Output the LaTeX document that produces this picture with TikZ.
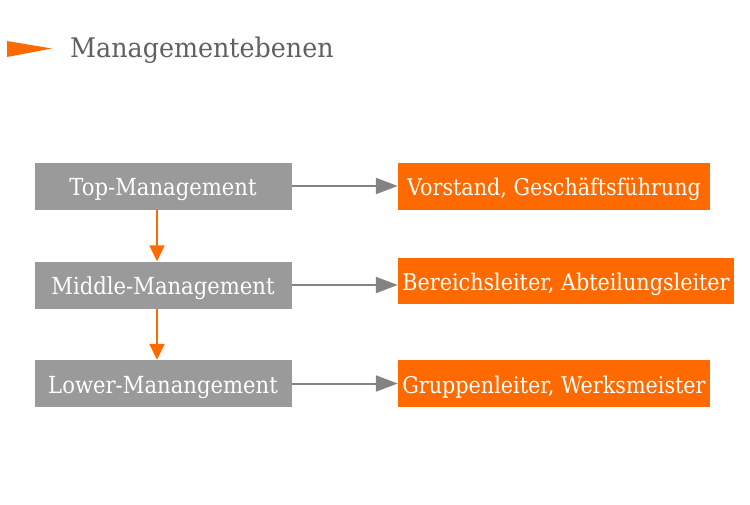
\documentclass[tikz,border=0pt]{standalone}
\usepackage{fontspec}
\setmainfont{DejaVu Serif}[FakeStretch=0.9]
\newfontfamily\titlefont{DejaVu Serif}[FakeStretch=0.94]
\usetikzlibrary{arrows.meta}
\definecolor{boxgray}{HTML}{9A9A9A}
\definecolor{orng}{HTML}{FF6A00}
\definecolor{titlegray}{HTML}{606060}
\definecolor{arrgray}{HTML}{838383}
\begin{document}
\begin{tikzpicture}[x=1pt,y=-1pt,
  graybox/.style={fill=boxgray,draw=none,inner sep=0pt,text=white,text height=22pt,text depth=3pt,font=\fontsize{23.5}{28}\selectfont},
  orangebox/.style={fill=orng,draw=none,inner sep=0pt,text=white,text height=22pt,text depth=3pt,font=\fontsize{23}{28}\selectfont},
  grayarrow/.style={draw=arrgray,line width=2pt,-{Triangle[length=22pt,width=16pt]}},
  orangearrow/.style={draw=orng,line width=2pt,-{Triangle[length=16pt,width=15pt]}}]
\useasboundingbox (0,0) rectangle (750,504);
\fill[orng] (7,41) -- (52,48.5) -- (7,57) -- cycle;
\node[anchor=base west,text=titlegray,font=\titlefont\fontsize{27}{32}\selectfont,inner sep=0pt] (title) at (70,57) {Managementebenen};
% gray boxes
\node[graybox,minimum width=257pt,minimum height=47pt] (top) at (163,186) {Top-Management};
\node[graybox,minimum width=257pt,minimum height=47pt] (mid) at (163,285) {Middle-Management};
\node[graybox,minimum width=257pt,minimum height=47pt] (low) at (163,383.5) {Lower-Manangement};
% orange boxes
\node[orangebox,minimum width=312pt,minimum height=47pt] (o1) at (554,186) {Vorstand, Geschäftsführung};
\node[orangebox,minimum width=336pt,minimum height=46pt] (o2) at (566,280.5) {Bereichsleiter, Abteilungsleiter};
\node[orangebox,minimum width=312pt,minimum height=47pt] (o3) at (554,383.5) {Gruppenleiter, Werksmeister};
% arrows
\draw[grayarrow] (top.east) -- (o1.west |- top.east);
\draw[grayarrow] (mid.east) -- (o2.west |- mid.east);
\draw[grayarrow] (low.east) -- (o3.west |- low.east);
\draw[orangearrow] (top.south -| 157,0) -- (mid.north -| 157,0);
\draw[orangearrow] (mid.south -| 157,0) -- (low.north -| 157,0);
\end{tikzpicture}
\end{document}
